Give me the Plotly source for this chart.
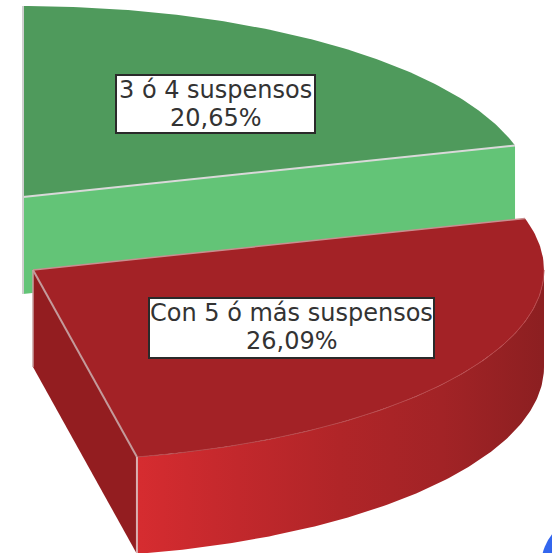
import numpy as np
import plotly.graph_objects as go

# --- data ---
categories = ["3 ó 4 suspensos", "Con 5 ó más suspensos"]
values = [20.65, 26.09]
top_colors = ["#4f9a5c", "#a32226"]
side_colors = ["#63c477", "#931d20"]
rim_colorscale = [[0, "#d62c30"], [0.25, "#c2282c"], [0.5, "#b02528"], [0.75, "#a22326"], [1, "#8c1f21"]]

# --- projection of the 3D pie (screen pixels) ---
W, H = 552, 553
RX, RY, DEPTH = 511, 191, 97
APEX = [(23, 197), (33, 270)]
SEAM = "#d9d9d9"
LABEL_BOX = [(116, 75, 315, 133), (149, 298, 434, 358)]
ACCENT = "#3366ee"


def pt(apex, deg, dy=0):
    r = np.radians(deg)
    return apex[0] + RX * np.sin(r), apex[1] - RY * np.cos(r) + dy


def arc(apex, a0, a1, dy=0, n=120):
    t = np.linspace(a0, a1, n)
    return pt(apex, t, dy)


fig = go.Figure()


def poly(xs, ys, color=None, line=None, lw=0, **kw):
    fig.add_trace(go.Scatter(
        x=list(xs), y=list(ys), mode="lines", fill="toself",
        fillcolor=color, line=dict(color=line or "rgba(0,0,0,0)", width=lw),
        hoverinfo="skip", showlegend=False, **kw))


def seam(xs, ys, width=1.5, color=SEAM):
    fig.add_trace(go.Scatter(x=list(xs), y=list(ys), mode="lines",
                             line=dict(color=color, width=width),
                             hoverinfo="skip", showlegend=False))


starts = np.concatenate([[0], np.cumsum(values)[:-1]]) * 3.6
ends = np.cumsum(values) * 3.6

# green slice
A, a0, a1 = APEX[0], starts[0], ends[0]
ex, ey = pt(A, a1)
poly([A[0], ex, ex, A[0]], [A[1], ey, ey + DEPTH, A[1] + DEPTH], side_colors[0])
ax, ay = arc(A, a0, a1)
poly(np.r_[A[0], ax], np.r_[A[1], ay], top_colors[0])
seam([A[0], ex], [A[1], ey], 2)
seam([A[0], A[0]], [pt(A, a0)[1], A[1] + DEPTH], 2, "#cfcfcf")

# red slice
A, a0, a1 = APEX[1], starts[1], ends[1]
ex, ey = pt(A, a1)
poly([A[0], ex, ex, A[0]], [A[1], ey, ey + DEPTH, A[1] + DEPTH], side_colors[1])
ax, ay = arc(A, a0, a1)
rx_top, ry_top = arc(A, 90, a1)
rx_bot, ry_bot = arc(A, 90, a1, DEPTH)
fig.add_trace(go.Scatter(
    x=list(np.r_[rx_top, rx_bot[::-1]]), y=list(np.r_[ry_top, ry_bot[::-1]]),
    mode="lines", fill="toself", line=dict(color="rgba(0,0,0,0)", width=0),
    fillgradient=dict(type="horizontal", colorscale=rim_colorscale),
    hoverinfo="skip", showlegend=False))
poly(np.r_[A[0], ax], np.r_[A[1], ay], top_colors[1])
seam(rx_top, ry_top, 1, "#b8494c")
seam([A[0], ex], [A[1], ey], 2, "#c49a9b")
seam([A[0], pt(A, a0)[0]], [A[1], pt(A, a0)[1]], 1.5, "#c98f90")
seam([ex, ex], [ey, ey + DEPTH], 2, "#d9b0b0")
seam([A[0], A[0]], [A[1], A[1] + DEPTH], 1.5, "#c9a0a0")

shapes = [dict(type="circle", xref="x", yref="y", x0=541, y0=515, x1=643, y1=617,
               fillcolor=ACCENT, line=dict(width=0), layer="above")]
annotations = []
for cat, val, box in zip(categories, values, LABEL_BOX):
    shapes.append(dict(type="rect", xref="x", yref="y", x0=box[0], y0=box[1], x1=box[2], y1=box[3],
                       fillcolor="white", line=dict(color="#2a2a2a", width=2), layer="above"))
    cx = (box[0] + box[2]) / 2
    for txt, yy in ((cat, box[1] + 15), (f"{val:.2f}%".replace(".", ","), box[1] + 43)):
        annotations.append(dict(
            x=cx, y=yy, xref="x", yref="y", text=txt, showarrow=False,
            xanchor="center", yanchor="middle", align="center",
            font=dict(family="DejaVu Sans", size=24, color="#333333")))

fig.update_layout(
    width=W, height=H, margin=dict(l=0, r=0, t=0, b=0),
    paper_bgcolor="white", plot_bgcolor="white", showlegend=False,
    annotations=annotations, shapes=shapes,
    xaxis=dict(range=[0, W], visible=False, fixedrange=True),
    yaxis=dict(range=[H, 0], visible=False, fixedrange=True),
)
fig.write_html("out.html", config=dict(displayModeBar=False),
               post_script="document.body.style.margin='0';document.documentElement.style.overflow='hidden';")
